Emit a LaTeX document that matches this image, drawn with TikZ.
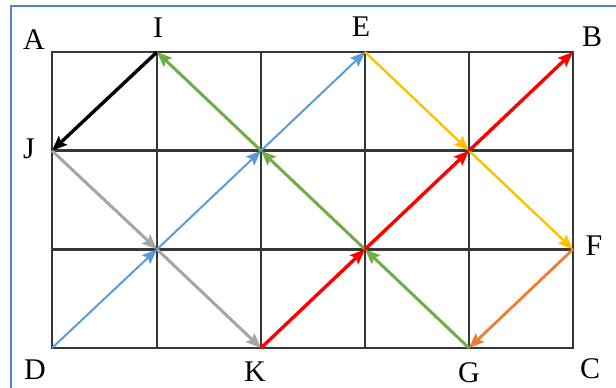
\documentclass[tikz,border=0pt]{standalone}
\usepackage{fontspec}
\setmainfont{Liberation Serif}
\usetikzlibrary{arrows.meta}
\definecolor{frameblue}{RGB}{84,130,200}
\definecolor{gridgray}{RGB}{55,55,55}
\definecolor{pathblue}{RGB}{91,155,213}
\definecolor{pathyellow}{RGB}{255,192,0}
\definecolor{pathgreen}{RGB}{112,173,71}
\definecolor{pathred}{RGB}{255,0,0}
\definecolor{pathgray}{RGB}{165,165,165}
\definecolor{pathorange}{RGB}{237,125,49}
\begin{document}
\begin{tikzpicture}[x=1pt,y=-1pt]
\tikzstyle{every node}+=[inner sep=0pt,font=\fontsize{30}{32}\selectfont]
\tikzstyle{move}=[-{Stealth[length=15pt,width=12pt,inset=2.5pt]}]
\useasboundingbox (0,0) rectangle (616,388);
% frame
\draw [frameblue, line width=1.2pt] (11,388) -- (11,6) -- (616,6);
% grid points
\coordinate (A) at (52,52);
\coordinate (I) at (157,52);
\coordinate (E) at (365,52);
\coordinate (B) at (573,52);
\coordinate (J) at (52,150.7);
\coordinate (P22) at (261,150.7);
\coordinate (P42) at (469,150.7);
\coordinate (P11) at (157,249.3);
\coordinate (P31) at (365,249.3);
\coordinate (F) at (573,249.3);
\coordinate (D) at (52,348);
\coordinate (K) at (261,348);
\coordinate (G) at (469,348);
\coordinate (C) at (573,348);
% grid
\draw [gridgray, line width=2.6pt] (A) rectangle (C);
\foreach \x in {157,261,365,469}
  \draw [gridgray, line width=2.6pt] (\x,52) -- (\x,348);
\foreach \y in {150.7,249.3}
  \draw [gridgray, line width=2.6pt] (52,\y) -- (573,\y);
% paths
\draw [move, black, line width=3.4pt] (I) -- (J);
\draw [move, pathgray, line width=3pt] (J) -- (P11);
\draw [move, pathgray, line width=3pt] (P11) -- (K);
\draw [move, pathblue, line width=2pt] (D) -- (P11);
\draw [move, pathblue, line width=2pt] (P11) -- (P22);
\draw [move, pathblue, line width=2pt] (P22) -- (E);
\draw [move, pathyellow, line width=2.4pt] (E) -- (P42);
\draw [move, pathyellow, line width=2.4pt] (P42) -- (F);
\draw [move, pathorange, line width=2.8pt] (F) -- (G);
\draw [move, pathgreen, line width=3pt] (G) -- (P31);
\draw [move, pathgreen, line width=3pt] (P31) -- (P22);
\draw [move, pathgreen, line width=3pt] (P22) -- (I);
\draw [move, pathred, line width=3.4pt] (K) -- (P31);
\draw [move, pathred, line width=3.4pt] (P31) -- (P42);
\draw [move, pathred, line width=3.4pt] (P42) -- (B);
% labels
\node (lA) at (34,40) {A};
\node (lI) at (158,28) {I};
\node (lE) at (361,27) {E};
\node (lB) at (592,37) {B};
\node (lJ) at (29,149) {J};
\node (lF) at (594,246) {F};
\node (lD) at (35,370) {D};
\node (lK) at (255,372) {K};
\node (lG) at (469,373) {G};
\node (lC) at (590,369) {C};
\end{tikzpicture}
\end{document}
